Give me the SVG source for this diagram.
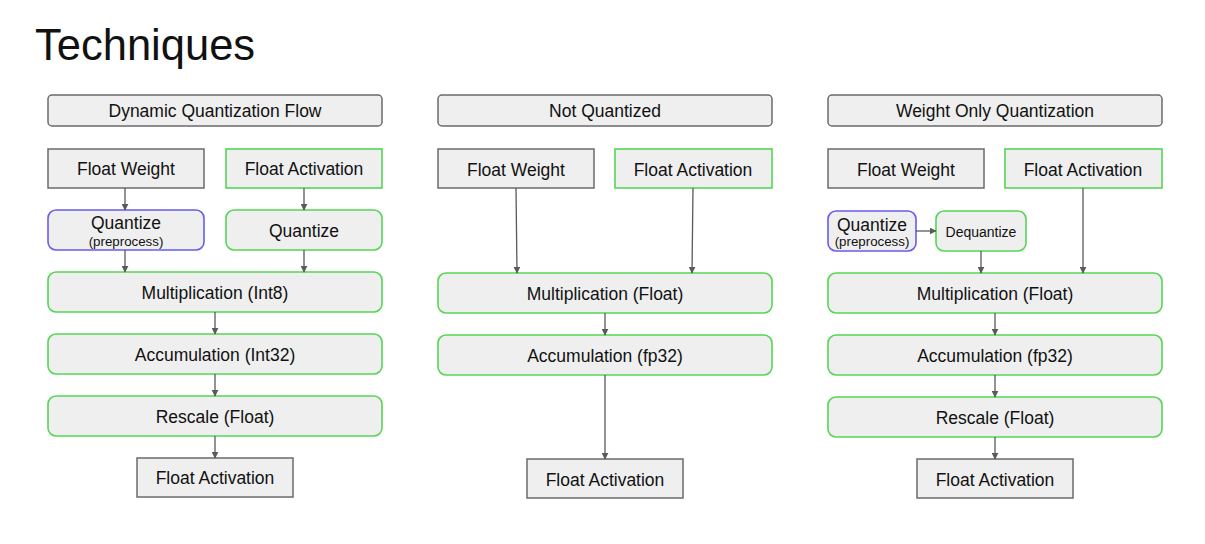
<svg xmlns="http://www.w3.org/2000/svg" width="1205" height="544" viewBox="0 0 1205 544">
<style>
text{font-family:"Liberation Sans",Arial,sans-serif;fill:#111;text-anchor:middle}
.g{fill:#efefef;stroke:#6b6b6b;stroke-width:1.5}
.gr{fill:#efefef;stroke:#55d655;stroke-width:1.6}
.pu{fill:#efefef;stroke:#6a5cec;stroke-width:1.6}
.l{font-size:17.5px}
.s{font-size:13.3px}
.c line{stroke:#5a5a5a;stroke-width:1.3;marker-end:url(#a)}
</style>
<defs>
<marker id="a" viewBox="0 0 10 10" refX="9" refY="5" markerWidth="7" markerHeight="7" markerUnits="userSpaceOnUse" orient="auto">
<path d="M0,0L10,5L0,10z" fill="#5a5a5a"/>
</marker>
</defs>
<rect width="1205" height="544" fill="#fff"/>
<text x="35" y="60" style="font-size:43.5px;text-anchor:start">Techniques</text>

<!-- Panel 1 -->
<g id="p1-header"><rect class="g" x="48" y="95" width="334" height="31" rx="4"/><text class="l" x="215" y="117">Dynamic Quantization Flow</text></g>
<g id="p1-fw"><rect class="g" x="48" y="149" width="156" height="39"/><text class="l" x="126" y="175">Float Weight</text></g>
<g id="p1-fa"><rect class="gr" x="226" y="149" width="156" height="39"/><text class="l" x="304" y="175">Float Activation</text></g>
<g id="p1-qp"><rect class="pu" x="48" y="210" width="156" height="40" rx="8"/><text class="l" x="126" y="229">Quantize</text><text class="s" x="126" y="246">(preprocess)</text></g>
<g id="p1-q"><rect class="gr" x="226" y="210" width="156" height="40" rx="8"/><text class="l" x="304" y="237">Quantize</text></g>
<g id="p1-mul"><rect class="gr" x="48" y="272" width="334" height="40" rx="8"/><text class="l" x="215" y="299">Multiplication (Int8)</text></g>
<g id="p1-acc"><rect class="gr" x="48" y="334" width="334" height="40" rx="8"/><text class="l" x="215" y="361">Accumulation (Int32)</text></g>
<g id="p1-res"><rect class="gr" x="48" y="396" width="334" height="40" rx="8"/><text class="l" x="215" y="423">Rescale (Float)</text></g>
<g id="p1-out"><rect class="g" x="137" y="458" width="156" height="39"/><text class="l" x="215" y="484">Float Activation</text></g>

<!-- Panel 2 -->
<g id="p2-header"><rect class="g" x="438" y="95" width="334" height="31" rx="4"/><text class="l" x="605" y="117">Not Quantized</text></g>
<g id="p2-fw"><rect class="g" x="438" y="149" width="156" height="39"/><text class="l" x="516" y="176">Float Weight</text></g>
<g id="p2-fa"><rect class="gr" x="615" y="149" width="157" height="39"/><text class="l" x="693" y="176">Float Activation</text></g>
<g id="p2-mul"><rect class="gr" x="438" y="273" width="334" height="40" rx="8"/><text class="l" x="605" y="300">Multiplication (Float)</text></g>
<g id="p2-acc"><rect class="gr" x="438" y="335" width="334" height="40" rx="8"/><text class="l" x="605" y="362">Accumulation (fp32)</text></g>
<g id="p2-out"><rect class="g" x="527" y="459" width="156" height="39"/><text class="l" x="605" y="486">Float Activation</text></g>

<!-- Panel 3 -->
<g id="p3-header"><rect class="g" x="828" y="95" width="334" height="31" rx="4"/><text class="l" x="995" y="117">Weight Only Quantization</text></g>
<g id="p3-fw"><rect class="g" x="828" y="149" width="156" height="39"/><text class="l" x="906" y="176">Float Weight</text></g>
<g id="p3-fa"><rect class="gr" x="1005" y="149" width="157" height="39"/><text class="l" x="1083" y="176">Float Activation</text></g>
<g id="p3-qp"><rect class="pu" x="828" y="211" width="88" height="40" rx="8"/><text class="l" x="872" y="231">Quantize</text><text class="s" x="872" y="246">(preprocess)</text></g>
<g id="p3-dq"><rect class="gr" x="936" y="211" width="90" height="40" rx="8"/><text x="981" y="237" style="font-size:14px">Dequantize</text></g>
<g id="p3-mul"><rect class="gr" x="828" y="273" width="334" height="40" rx="8"/><text class="l" x="995" y="300">Multiplication (Float)</text></g>
<g id="p3-acc"><rect class="gr" x="828" y="335" width="334" height="40" rx="8"/><text class="l" x="995" y="362">Accumulation (fp32)</text></g>
<g id="p3-res"><rect class="gr" x="828" y="397" width="334" height="40" rx="8"/><text class="l" x="995" y="424">Rescale (Float)</text></g>
<g id="p3-out"><rect class="g" x="917" y="459" width="156" height="39"/><text class="l" x="995" y="486">Float Activation</text></g>

<g id="connectors" class="c">
<line x1="125" y1="188" x2="125" y2="210"/>
<line x1="304" y1="188" x2="304" y2="210"/>
<line x1="125" y1="250" x2="125" y2="272"/>
<line x1="304" y1="250" x2="304" y2="272"/>
<line x1="215" y1="312" x2="215" y2="334"/>
<line x1="215" y1="374" x2="215" y2="396"/>
<line x1="215" y1="436" x2="215" y2="458"/>

<line x1="516" y1="188" x2="517" y2="273"/>
<line x1="693" y1="188" x2="692" y2="273"/>
<line x1="605" y1="313" x2="605" y2="335"/>
<line x1="605" y1="375" x2="605" y2="459"/>

<line x1="916" y1="231" x2="936" y2="231"/>
<line x1="981" y1="251" x2="981" y2="273"/>
<line x1="1083" y1="188" x2="1083" y2="273"/>
<line x1="995" y1="313" x2="995" y2="335"/>
<line x1="995" y1="375" x2="995" y2="397"/>
<line x1="995" y1="437" x2="995" y2="459"/>
</g>
</svg>
